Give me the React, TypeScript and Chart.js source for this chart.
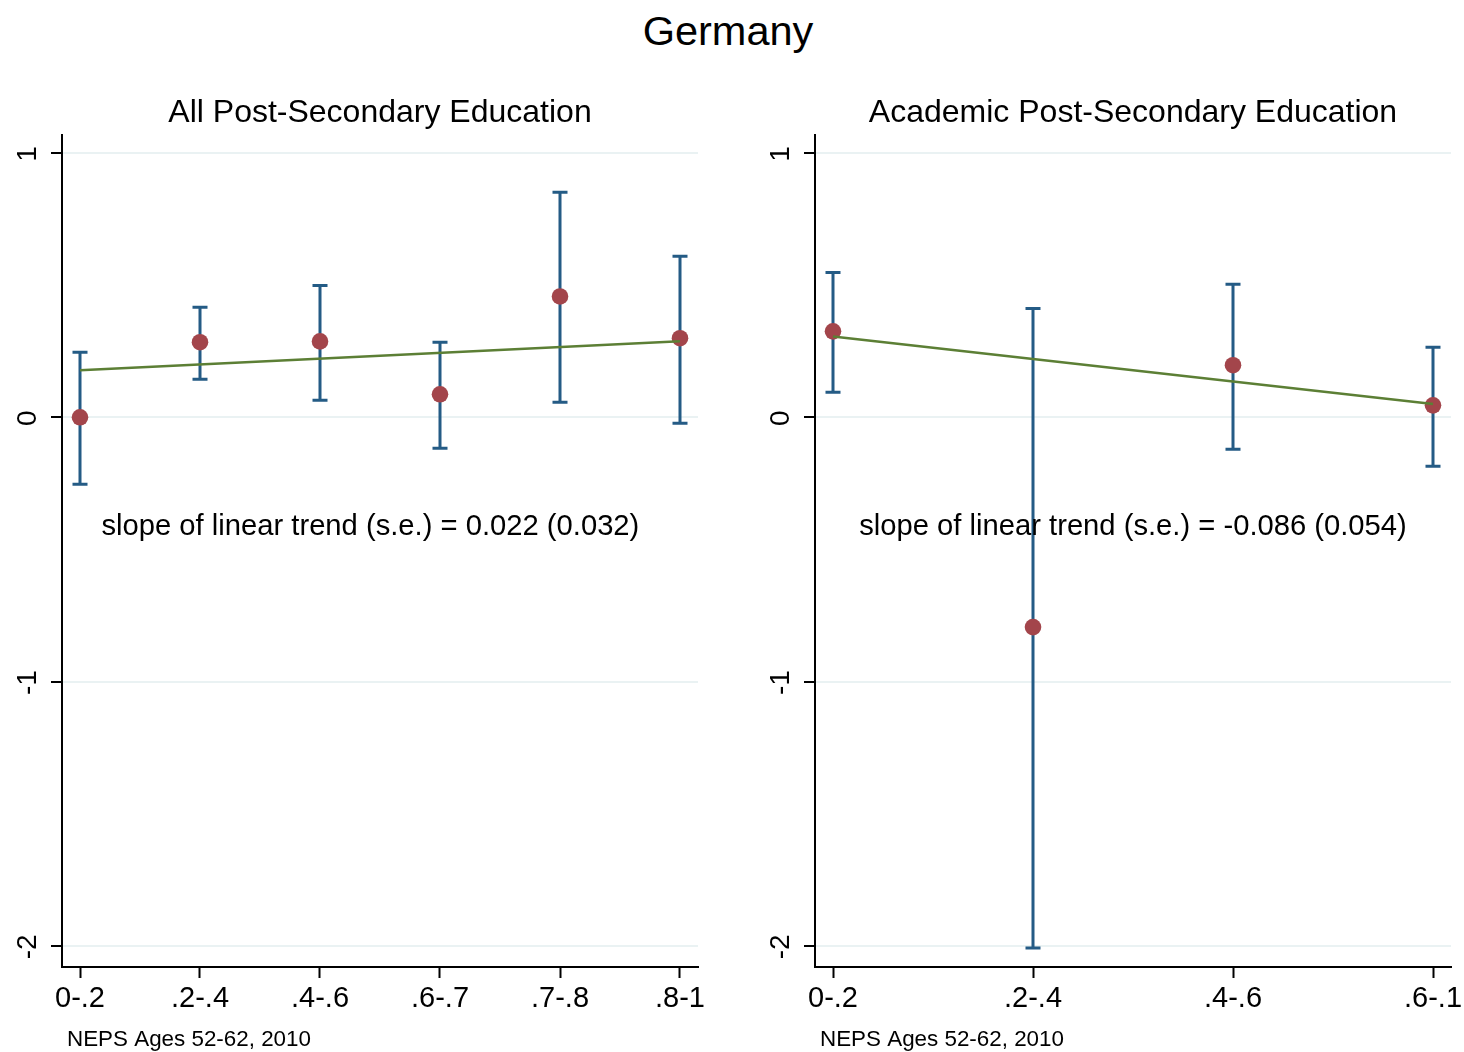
import React, { useEffect, useRef } from "react";
import { Chart, registerables } from "chart.js";

Chart.register(...registerables);

const FONT = "'Liberation Sans', Arial, Helvetica, sans-serif";

const mainTitle = "Germany";
const noteText = "NEPS Ages 52-62, 2010";
const yTickValues = [-2, -1, 0, 1];

// Panel 1: All Post-Secondary Education
const allTitle = "All Post-Secondary Education";
const allCategories = ["0-.2", ".2-.4", ".4-.6", ".6-.7", ".7-.8", ".8-1"];
const allEstimates = [0.0, 0.284, 0.287, 0.087, 0.457, 0.299];
const allLower = [-0.253, 0.144, 0.064, -0.117, 0.057, -0.023];
const allUpper = [0.246, 0.416, 0.499, 0.284, 0.851, 0.609];
const allTrend = [0.178, 0.288]; // fitted value at first and last category
const allSlopeText = "slope of linear trend (s.e.) = 0.022 (0.032)";

// Panel 2: Academic Post-Secondary Education
const acadTitle = "Academic Post-Secondary Education";
const acadCategories = ["0-.2", ".2-.4", ".4-.6", ".6-.1"];
const acadEstimates = [0.325, -0.794, 0.197, 0.045];
const acadLower = [0.095, -2.008, -0.121, -0.185];
const acadUpper = [0.548, 0.412, 0.503, 0.265];
const acadTrend = [0.306, 0.05];
const acadSlopeText = "slope of linear trend (s.e.) = -0.086 (0.054)";

const BAR_COLOR = "#245b85";
const MARKER_COLOR = "#a3454b";
const LINE_COLOR = "#5c7f35";
const GRID_COLOR = "#eaf2f3";

type PanelProps = {
  pageLeft: number;
  width: number;
  axisWidth: number;
  padRight: number;
  xPad: number;
  title: string;
  categories: string[];
  estimates: number[];
  lower: number[];
  upper: number[];
  trend: number[];
  slopeText: string;
  slopeX: number;
  slopeY: number;
};

function Panel(p: PanelProps) {
  const ref = useRef<HTMLCanvasElement | null>(null);

  useEffect(() => {
    if (!ref.current) return;
    const n = p.categories.length;
    const xs = p.categories.map((_, i) => i + 1);

    const decor = {
      id: "panelDecor",
      beforeDatasetsDraw(chart: any) {
        const ctx = chart.ctx;
        const xS = chart.scales.x;
        const yS = chart.scales.y;
        ctx.save();
        ctx.strokeStyle = BAR_COLOR;
        ctx.lineWidth = 3;
        ctx.lineCap = "butt";
        xs.forEach((xv, i) => {
          const px = xS.getPixelForValue(xv);
          const pLo = yS.getPixelForValue(p.lower[i]);
          const pHi = yS.getPixelForValue(p.upper[i]);
          ctx.beginPath();
          ctx.moveTo(px, pLo);
          ctx.lineTo(px, pHi);
          ctx.moveTo(px - 7.5, pLo);
          ctx.lineTo(px + 7.5, pLo);
          ctx.moveTo(px - 7.5, pHi);
          ctx.lineTo(px + 7.5, pHi);
          ctx.stroke();
        });
        ctx.restore();
      },
      afterDraw(chart: any) {
        const ctx = chart.ctx;
        const area = chart.chartArea;
        const xS = chart.scales.x;
        const yS = chart.scales.y;
        ctx.save();
        ctx.fillStyle = "#000";
        // rotated y tick labels
        ctx.font = `28px ${FONT}`;
        ctx.textAlign = "center";
        ctx.textBaseline = "alphabetic";
        yTickValues.forEach((v) => {
          const py = yS.getPixelForValue(v);
          ctx.save();
          ctx.translate(area.left - 26, py + 1);
          ctx.rotate(-Math.PI / 2);
          ctx.fillText(String(v), 0, 0);
          ctx.restore();
        });
        // panel title
        ctx.font = `32px ${FONT}`;
        ctx.textAlign = "center";
        ctx.fillText(p.title, (area.left + area.right) / 2, 122);
        // slope annotation
        ctx.font = `29.2px ${FONT}`;
        ctx.fillText(
          p.slopeText,
          xS.getPixelForValue(p.slopeX),
          yS.getPixelForValue(p.slopeY)
        );
        // note
        ctx.font = `22.4px ${FONT}`;
        ctx.textAlign = "left";
        ctx.fillText(noteText, area.left + 5, 1046);
        ctx.restore();
      },
    };

    const chart = new Chart(ref.current, {
      data: {
        datasets: [
          {
            type: "line",
            data: [
              { x: 1, y: p.trend[0] },
              { x: n, y: p.trend[1] },
            ],
            borderColor: LINE_COLOR,
            borderWidth: 2.5,
            pointRadius: 0,
            fill: false,
          },
          {
            type: "scatter",
            data: xs.map((xv, i) => ({ x: xv, y: p.estimates[i] })),
            pointRadius: 8.3,
            pointHoverRadius: 8.3,
            backgroundColor: MARKER_COLOR,
            borderWidth: 0,
          },
        ],
      } as any,
      options: {
        animation: false,
        responsive: false,
        devicePixelRatio: 1,
        events: [],
        layout: { padding: { top: 135, right: p.padRight, bottom: 0, left: 0 } },
        plugins: {
          legend: { display: false },
          tooltip: { enabled: false },
          title: { display: false },
        },
        scales: {
          x: {
            type: "linear",
            min: 1 - p.xPad,
            max: n + p.xPad,
            afterBuildTicks: (scale: any) => {
              scale.ticks = xs.map((v) => ({ value: v }));
            },
            afterFit: (scale: any) => {
              scale.height = 85;
            },
            ticks: {
              autoSkip: false,
              maxRotation: 0,
              minRotation: 0,
              padding: 4,
              color: "#000",
              font: { family: FONT, size: 29 },
              callback: (v: any) => p.categories[Math.round(Number(v)) - 1] ?? "",
            },
            grid: {
              drawOnChartArea: false,
              drawTicks: true,
              tickLength: 11,
              tickColor: "#000",
              tickWidth: 2,
            },
            border: { display: true, color: "#000", width: 2 },
          },
          y: {
            type: "linear",
            min: -2.08,
            max: 1.068,
            afterBuildTicks: (scale: any) => {
              scale.ticks = yTickValues.map((v) => ({ value: v }));
            },
            afterFit: (scale: any) => {
              scale.width = p.axisWidth;
            },
            ticks: { display: false },
            grid: {
              color: GRID_COLOR,
              lineWidth: 2,
              drawTicks: true,
              tickLength: 11,
              tickColor: "#000",
              tickWidth: 2,
            },
            border: { display: true, color: "#000", width: 2 },
          },
        },
      } as any,
      plugins: [decor],
    });

    return () => chart.destroy();
  }, []);

  return (
    <canvas
      ref={ref}
      width={p.width}
      height={1052}
      style={{
        position: "absolute",
        left: p.pageLeft,
        top: 0,
        width: p.width,
        height: 1052,
      }}
    />
  );
}

export default function App() {
  return (
    <div
      style={{
        position: "absolute",
        left: 0,
        top: 0,
        width: 1464,
        height: 1052,
        background: "#fff",
        overflow: "hidden",
      }}
    >
      <div
        style={{
          position: "absolute",
          left: 0,
          top: 11,
          width: 1456,
          textAlign: "center",
          fontFamily: FONT,
          fontSize: 41.5,
          lineHeight: "40px",
          color: "#000",
        }}
      >
        {mainTitle}
      </div>
      <Panel
        pageLeft={0}
        width={740}
        axisWidth={62}
        padRight={42}
        xPad={0.15}
        title={allTitle}
        categories={allCategories}
        estimates={allEstimates}
        lower={allLower}
        upper={allUpper}
        trend={allTrend}
        slopeText={allSlopeText}
        slopeX={3.42}
        slopeY={-0.446}
      />
      <Panel
        pageLeft={740}
        width={732}
        axisWidth={75}
        padRight={21}
        xPad={0.09}
        title={acadTitle}
        categories={acadCategories}
        estimates={acadEstimates}
        lower={acadLower}
        upper={acadUpper}
        trend={acadTrend}
        slopeText={acadSlopeText}
        slopeX={2.5}
        slopeY={-0.446}
      />
    </div>
  );
}
